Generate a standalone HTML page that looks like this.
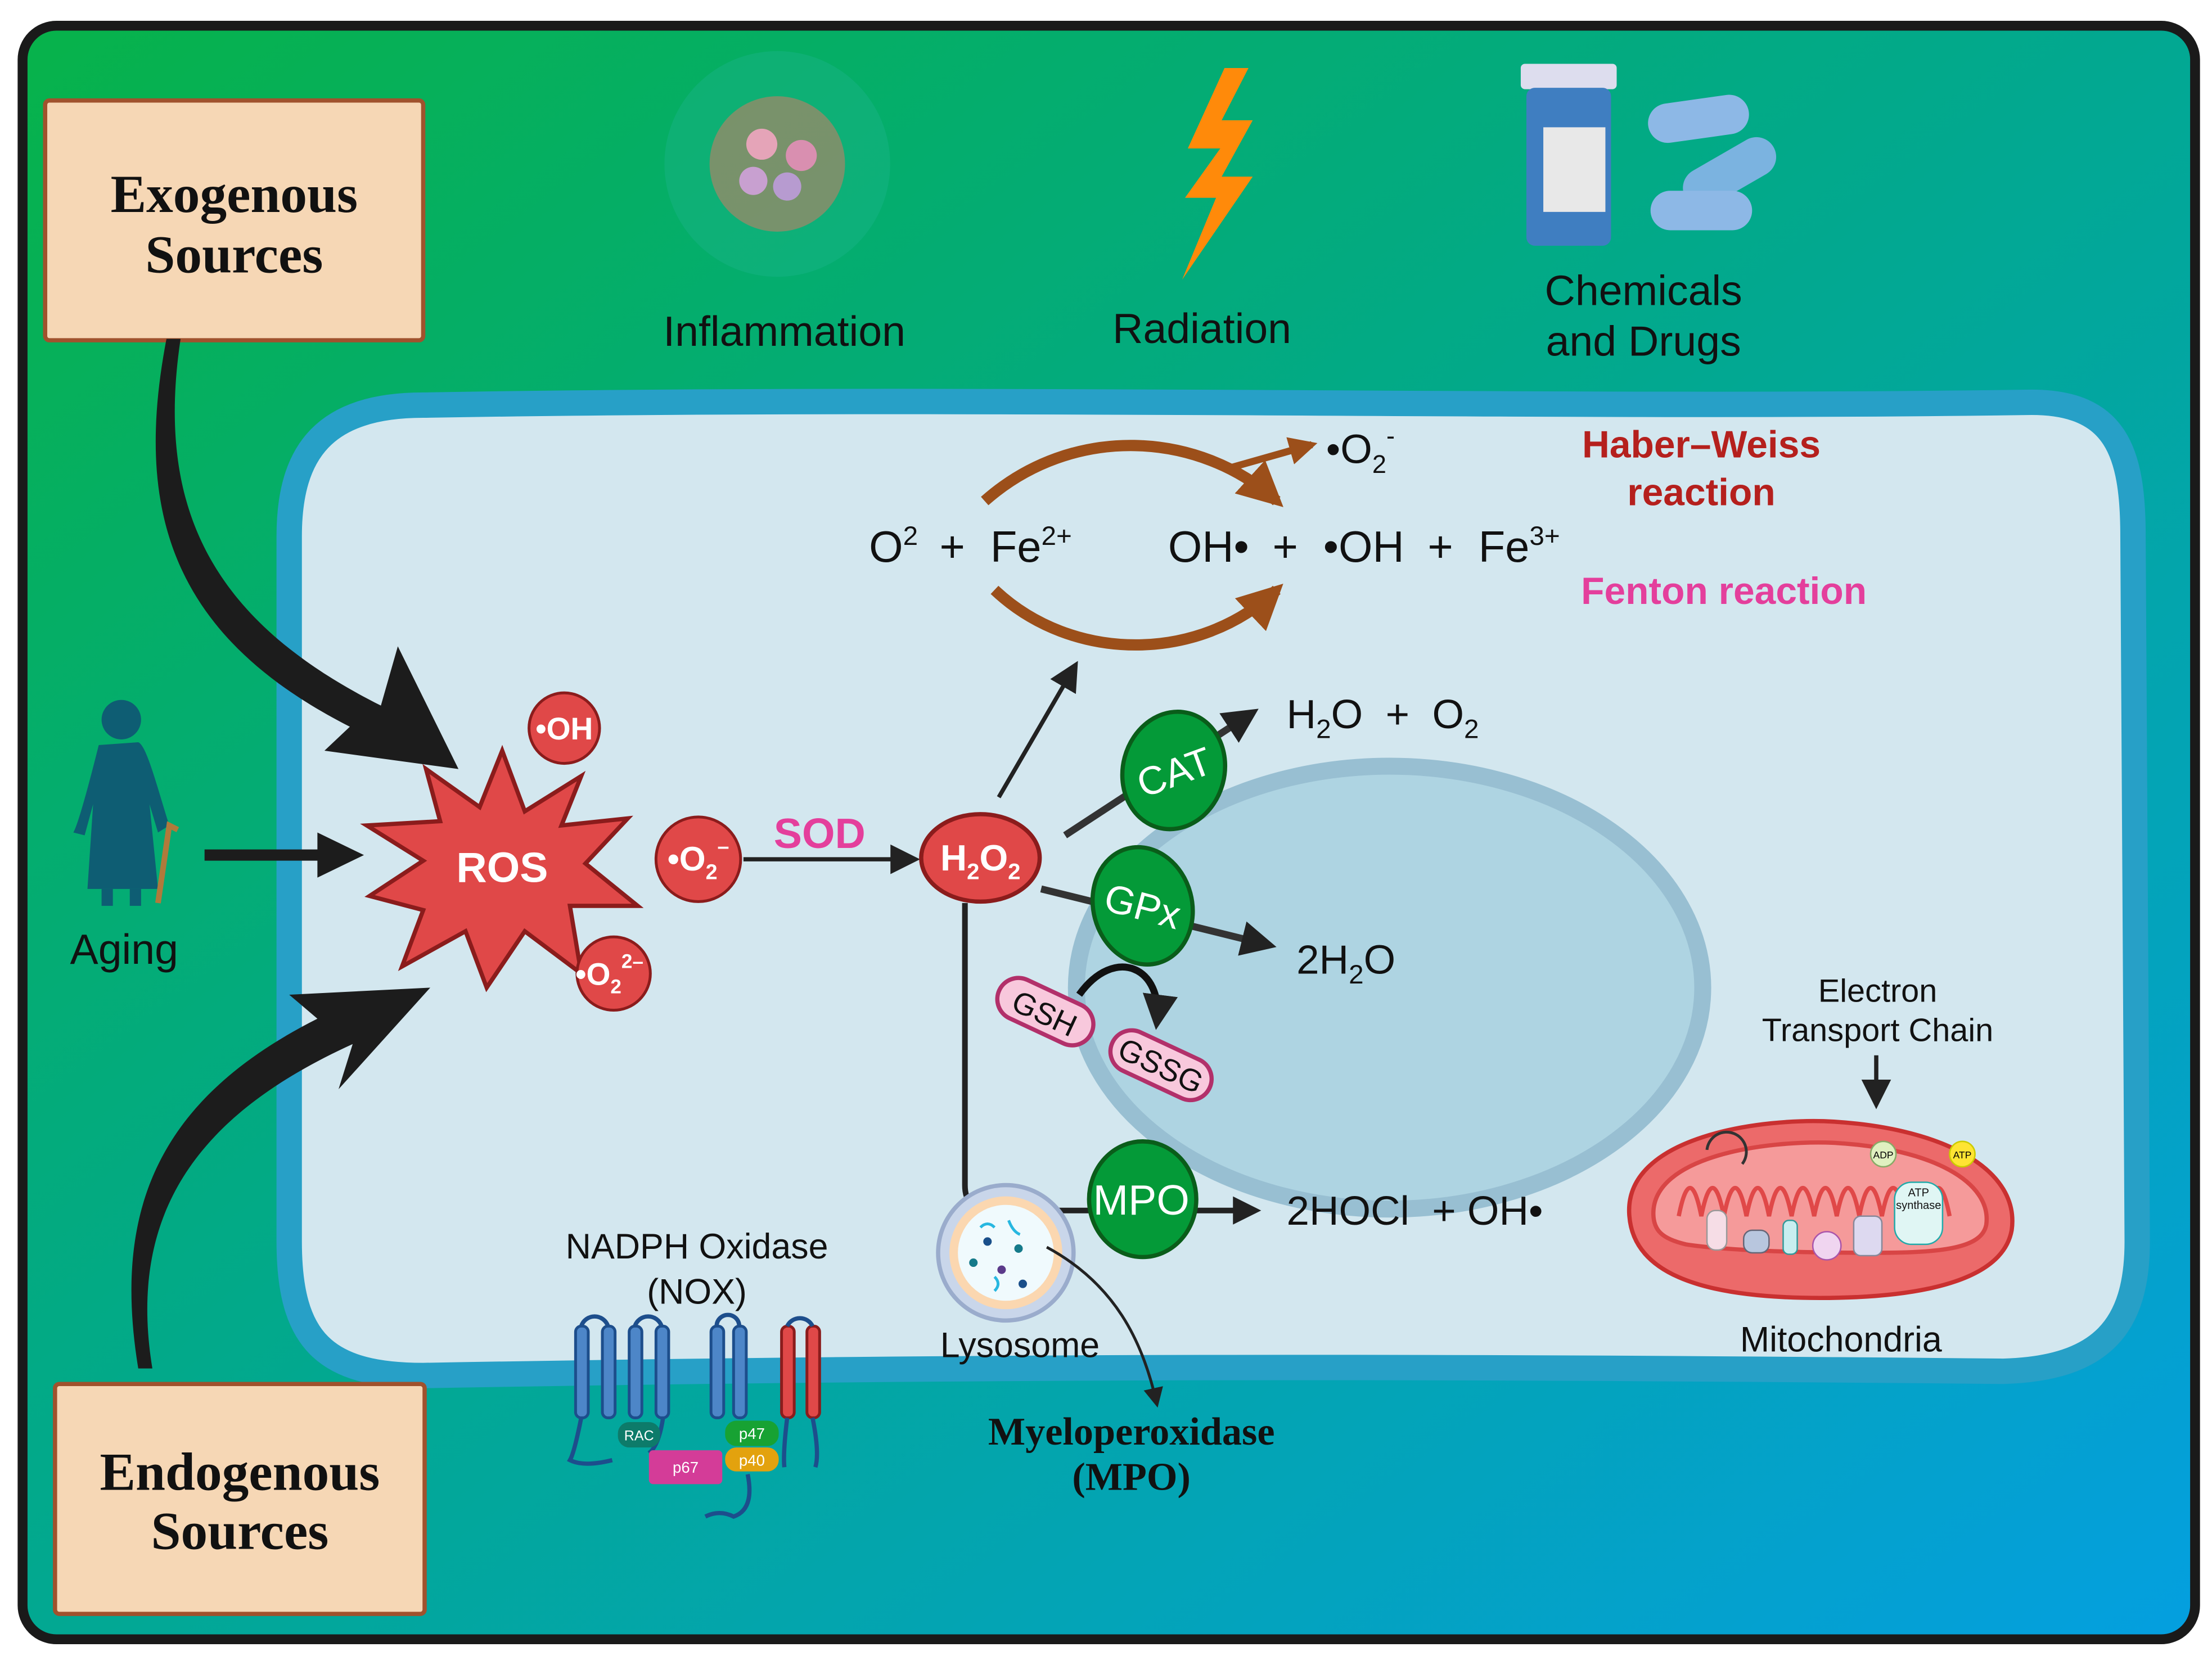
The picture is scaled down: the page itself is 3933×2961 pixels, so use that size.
<!DOCTYPE html>
<html><head><meta charset="utf-8"><style>
html,body{margin:0;padding:0;background:#fff;}
svg{display:block;}
text{font-family:"Liberation Sans",sans-serif;}
.serif{font-family:"Liberation Serif",serif;font-weight:bold;}
</style></head><body>
<svg width="3933" height="2961" viewBox="0 0 1568 1180" xmlns="http://www.w3.org/2000/svg">
<defs>
<linearGradient id="bg" x1="0" y1="0" x2="1" y2="1">
<stop offset="0" stop-color="#07b24a"/><stop offset="0.45" stop-color="#02a98a"/><stop offset="1" stop-color="#049fe0"/>
</linearGradient>
<marker id="ah" viewBox="0 0 10 10" refX="8" refY="5" markerWidth="5" markerHeight="5" orient="auto"><path d="M0,0L10,5L0,10z" fill="#222"/></marker>
<marker id="ahs" viewBox="0 0 10 10" refX="8" refY="5" markerWidth="7" markerHeight="7" orient="auto"><path d="M0,0L10,5L0,10z" fill="#222"/></marker>
<marker id="ahb" viewBox="0 0 10 10" refX="8" refY="5" markerWidth="4" markerHeight="4" orient="auto"><path d="M0,0L10,5L0,10z" fill="#9c4f1a"/></marker>
</defs>
<rect x="0" y="0" width="1568" height="1180" fill="#fff"/>
<rect x="16" y="18" width="1540" height="1144" rx="24" fill="url(#bg)" stroke="#1a1a1a" stroke-width="7"/>
<!-- cell -->
<path d="M300,287 C700,280 1100,290 1440,285 C1500,285 1512,320 1512,380 L1515,880 C1515,940 1490,970 1420,972 C1000,968 700,968 300,975 C230,975 205,950 205,880 L205,380 C205,320 230,287 300,287 Z" fill="#d3e7ef" stroke="#27a0c7" stroke-width="18"/>
<!-- nucleus -->
<ellipse cx="985" cy="700" rx="222" ry="157" fill="#aed4e2" stroke="#98bfd2" stroke-width="12"/>
<!-- boxes -->
<rect x="32" y="71" width="268" height="170" fill="#f6d7b5" stroke="#a0522d" stroke-width="3" rx="3"/>
<text x="166" y="150" class="serif" font-size="38" text-anchor="middle" fill="#111">Exogenous</text>
<text x="166" y="193" class="serif" font-size="38" text-anchor="middle" fill="#111">Sources</text>
<rect x="39" y="981" width="262" height="163" fill="#f6d7b5" stroke="#a0522d" stroke-width="3" rx="3"/>
<text x="170" y="1056" class="serif" font-size="38" text-anchor="middle" fill="#111">Endogenous</text>
<text x="170" y="1098" class="serif" font-size="38" text-anchor="middle" fill="#111">Sources</text>
<!-- big curved arrows -->
<path d="M128,240 C110,360 150,440 270,500 L282,458 L325,545 L230,532 L248,515 C120,450 95,360 118,240 Z" fill="#1c1c1c"/>
<path d="M108,970 C90,860 140,790 250,740 L240,772 L305,700 L205,705 L225,722 C110,780 80,860 98,970 Z" fill="#1c1c1c"/>
<path d="M145,602 L225,602 L225,590 L258,606 L225,622 L225,610 L145,610 Z" fill="#1c1c1c"/>
<!-- Aging figure -->
<g fill="#0e5d73">
<circle cx="86" cy="510" r="14"/>
<path d="M70,528 C62,560 55,585 52,590 L60,592 L66,570 L62,630 L112,630 L106,570 L112,590 L120,585 C112,560 104,528 98,526 Z"/>
<rect x="72" y="630" width="8" height="12"/><rect x="92" y="630" width="8" height="12"/>
</g>
<path d="M112,640 L120,585 L126,588" stroke="#b07a3b" stroke-width="4" fill="none"/>
<text x="88" y="683" font-size="30" text-anchor="middle" fill="#111">Aging</text>
<!-- top icons -->
<circle cx="551" cy="116" r="80" fill="#1bb38d" opacity="0.4"/>
<circle cx="551" cy="116" r="48" fill="#d27a63" opacity="0.55"/>
<circle cx="540" cy="102" r="11" fill="#e5a4b8"/><circle cx="568" cy="110" r="11" fill="#d98fb0"/>
<circle cx="534" cy="128" r="10" fill="#c8a0d0"/><circle cx="558" cy="132" r="10" fill="#b79bd0"/>
<text x="556" y="245" font-size="30" text-anchor="middle" fill="#111">Inflammation</text>
<path d="M868,48 L842,105 L865,105 L840,140 L862,140 L838,198 L888,125 L866,125 L888,85 L866,85 L885,48 Z" fill="#ff8a0a"/>
<text x="852" y="243" font-size="30" text-anchor="middle" fill="#111">Radiation</text>
<rect x="1078" y="45" width="68" height="18" fill="#dde" rx="3"/>
<rect x="1082" y="62" width="60" height="112" fill="#3f7ec1" rx="6"/>
<rect x="1094" y="90" width="44" height="60" fill="#e8e8e8"/>
<rect x="1168" y="70" width="72" height="28" rx="14" fill="#8db8e6" transform="rotate(-8 1204 84)"/>
<rect x="1190" y="108" width="72" height="28" rx="14" fill="#7bb3e0" transform="rotate(-30 1226 122)"/>
<rect x="1170" y="135" width="72" height="28" rx="14" fill="#8db8e6"/>
<text x="1165" y="216" font-size="30" text-anchor="middle" fill="#111">Chemicals</text>
<text x="1165" y="252" font-size="30" text-anchor="middle" fill="#111">and Drugs</text>
<!-- ROS star -->
<path d="M356,532 L372,575 L412,550 L398,585 L445,580 L415,612 L452,642 L404,642 L412,690 L372,660 L345,700 L330,660 L285,685 L300,645 L262,635 L300,610 L260,585 L312,582 L302,545 L340,572 Z" fill="#e04848" stroke="#8b1c1c" stroke-width="3"/>
<text x="356" y="625" font-size="30" font-weight="bold" text-anchor="middle" fill="#fff">ROS</text>
<circle cx="400" cy="516" r="25" fill="#e04848" stroke="#8b1c1c" stroke-width="2"/>
<text x="400" y="524" font-size="22" font-weight="bold" text-anchor="middle" fill="#fff">•OH</text>
<circle cx="495" cy="609" r="30" fill="#e04848" stroke="#8b1c1c" stroke-width="2"/>
<text x="495" y="617" font-size="24" font-weight="bold" text-anchor="middle" fill="#fff">•O<tspan font-size="15" dy="6">2</tspan><tspan font-size="15" dy="-18">–</tspan></text>
<circle cx="435" cy="690" r="26" fill="#e04848" stroke="#8b1c1c" stroke-width="2"/>
<text x="432" y="698" font-size="22" font-weight="bold" text-anchor="middle" fill="#fff">•O<tspan font-size="14" dy="6">2</tspan><tspan font-size="14" dy="-18">2–</tspan></text>
<line x1="527" y1="609" x2="648" y2="609" stroke="#222" stroke-width="3" marker-end="url(#ahs)"/>
<text x="581" y="601" font-size="30" font-weight="bold" text-anchor="middle" fill="#e43f9c">SOD</text>
<ellipse cx="695" cy="608" rx="42" ry="31" fill="#e04848" stroke="#8b1c1c" stroke-width="3"/>
<text x="695" y="617" font-size="26" font-weight="bold" text-anchor="middle" fill="#fff">H<tspan font-size="16" dy="6">2</tspan><tspan dy="-6">O</tspan><tspan font-size="16" dy="6">2</tspan></text>
<!-- branches -->
<line x1="708" y1="565" x2="762" y2="472" stroke="#222" stroke-width="3" marker-end="url(#ahs)"/>
<line x1="755" y1="592" x2="888" y2="505" stroke="#333" stroke-width="5" marker-end="url(#ah)"/>
<line x1="738" y1="630" x2="900" y2="670" stroke="#333" stroke-width="5" marker-end="url(#ah)"/>
<path d="M684,640 L684,840 Q684,858 702,858 L890,858" stroke="#222" stroke-width="4" fill="none" marker-end="url(#ah)"/>
<!-- enzymes -->
<ellipse cx="832" cy="546" rx="36" ry="42" fill="#049a38" stroke="#0a5d1a" stroke-width="3" transform="rotate(15 832 546)"/>
<text x="832" y="557" font-size="28" text-anchor="middle" fill="#fff" transform="rotate(-20 832 546)">CAT</text>
<ellipse cx="810" cy="642" rx="35" ry="42" fill="#049a38" stroke="#0a5d1a" stroke-width="3" transform="rotate(-15 810 642)"/>
<text x="810" y="652" font-size="28" text-anchor="middle" fill="#fff" transform="rotate(15 810 642)">GPx</text>
<ellipse cx="810" cy="850" rx="38" ry="41" fill="#049a38" stroke="#0a5d1a" stroke-width="3"/>
<text x="809" y="861" font-size="30" text-anchor="middle" fill="#fff">MPO</text>
<text x="912" y="516" font-size="29" fill="#111" xml:space="preserve">H<tspan font-size="19" dy="7">2</tspan><tspan dy="-7">O  +  O</tspan><tspan font-size="19" dy="7">2</tspan></text>
<text x="919" y="690" font-size="29" fill="#111">2H<tspan font-size="19" dy="7">2</tspan><tspan dy="-7">O</tspan></text>
<text x="912" y="868" font-size="29" fill="#111" xml:space="preserve">2HOCl  + OH•</text>
<!-- GSH -->
<path d="M765,705 C790,670 825,685 820,725" stroke="#111" stroke-width="5" fill="none" marker-end="url(#ah)"/>
<rect x="705" y="702" width="72" height="30" rx="15" fill="#f8c8dc" stroke="#b2306a" stroke-width="3" transform="rotate(25 741 717)"/>
<text x="741" y="726" font-size="22" text-anchor="middle" fill="#111" transform="rotate(25 741 717)">GSH</text>
<rect x="785" y="740" width="76" height="30" rx="15" fill="#f8c8dc" stroke="#b2306a" stroke-width="3" transform="rotate(25 823 755)"/>
<text x="823" y="763" font-size="22" text-anchor="middle" fill="#111" transform="rotate(25 823 755)">GSSG</text>
<!-- Fenton/HW -->
<text x="616" y="398" font-size="31" fill="#111">O<tspan font-size="19" dy="-12">2</tspan></text>
<text x="666" y="398" font-size="31" fill="#111">+</text>
<text x="702" y="398" font-size="31" fill="#111">Fe<tspan font-size="19" dy="-12">2+</tspan></text>
<text x="828" y="398" font-size="31" fill="#111">OH•</text>
<text x="902" y="398" font-size="31" fill="#111">+</text>
<text x="938" y="398" font-size="31" fill="#111">•OH</text>
<text x="1012" y="398" font-size="31" fill="#111">+</text>
<text x="1048" y="398" font-size="31" fill="#111">Fe<tspan font-size="19" dy="-12">3+</tspan></text>
<path d="M698,355 C760,300 850,305 905,355" stroke="#9c4f1a" stroke-width="8" fill="none" marker-end="url(#ahb)"/>
<path d="M870,332 L930,315" stroke="#9c4f1a" stroke-width="5" fill="none" marker-end="url(#ahb)"/>
<path d="M705,418 C760,470 850,470 905,418" stroke="#9c4f1a" stroke-width="8" fill="none" marker-end="url(#ahb)"/>
<text x="940" y="328" font-size="29" fill="#111">•O<tspan font-size="18" dy="7">2</tspan><tspan font-size="18" dy="-20">-</tspan></text>
<text x="1206" y="324" font-size="27" font-weight="bold" text-anchor="middle" fill="#b5201d">Haber–Weiss</text>
<text x="1206" y="358" font-size="27" font-weight="bold" text-anchor="middle" fill="#b5201d">reaction</text>
<text x="1222" y="428" font-size="27" font-weight="bold" text-anchor="middle" fill="#e43f9c">Fenton reaction</text>
<!-- lysosome -->
<circle cx="713" cy="888" r="48" fill="#c9d6ea" stroke="#9aaccc" stroke-width="3"/>
<circle cx="713" cy="888" r="40" fill="#fbd7b0"/>
<circle cx="713" cy="888" r="34" fill="#f0fafd"/>
<circle cx="700" cy="880" r="3" fill="#1a4f8a"/><circle cx="722" cy="885" r="3" fill="#157a8a"/><circle cx="710" cy="900" r="3" fill="#5b3a8a"/><circle cx="725" cy="910" r="3" fill="#1a4f8a"/><circle cx="690" cy="895" r="3" fill="#157a8a"/>
<path d="M695,870 q5,-5 10,0 M715,865 q3,8 8,10 M705,905 q5,5 0,10" stroke="#27b7e0" stroke-width="2" fill="none"/>
<path d="M742,884 C790,910 810,950 820,995" stroke="#222" stroke-width="2" fill="none" marker-end="url(#ahs)"/>
<text x="723" y="962" font-size="25" text-anchor="middle" fill="#111">Lysosome</text>
<text x="802" y="1024" class="serif" font-size="28" text-anchor="middle" fill="#111">Myeloperoxidase</text>
<text x="802" y="1056" class="serif" font-size="28" text-anchor="middle" fill="#111">(MPO)</text>
<!-- NOX -->
<text x="494" y="892" font-size="25" text-anchor="middle" fill="#111">NADPH Oxidase</text>
<text x="494" y="924" font-size="25" text-anchor="middle" fill="#111">(NOX)</text>
<g fill="#4d86c8" stroke="#1d4e8c" stroke-width="2">
<rect x="408" y="940" width="9" height="65" rx="4"/><rect x="427" y="940" width="9" height="65" rx="4"/>
<rect x="446" y="940" width="9" height="65" rx="4"/><rect x="465" y="940" width="9" height="65" rx="4"/>
<rect x="504" y="940" width="9" height="65" rx="4"/><rect x="520" y="940" width="9" height="65" rx="4"/>
</g>
<g fill="#e04848" stroke="#8b1c1c" stroke-width="2"><rect x="554" y="940" width="9" height="65" rx="4"/><rect x="572" y="940" width="9" height="65" rx="4"/></g>
<path d="M412,940 a10,10 0 0 1 19,0 M450,940 a10,10 0 0 1 19,0 M508,940 a8,8 0 0 1 16,0 M558,940 a10,10 0 0 1 18,0" stroke="#1d4e8c" stroke-width="3" fill="none"/>
<path d="M412,1005 q-5,25 -8,30 q10,5 30,0 M470,1005 q-3,20 -10,25 M576,1005 q5,25 2,35 M558,1005 q-3,25 -2,35" stroke="#1d4e8c" stroke-width="3" fill="none"/>
<rect x="438" y="1008" width="30" height="18" rx="8" fill="#0d7b6a"/><text x="453" y="1021" font-size="10" text-anchor="middle" fill="#fff">RAC</text>
<rect x="460" y="1028" width="52" height="24" rx="3" fill="#d43c98"/><text x="486" y="1044" font-size="11" text-anchor="middle" fill="#fff">p67</text>
<rect x="514" y="1007" width="38" height="18" rx="8" fill="#17a233"/><text x="533" y="1020" font-size="11" text-anchor="middle" fill="#fff">p47</text>
<rect x="514" y="1026" width="38" height="17" rx="8" fill="#e3a20e"/><text x="533" y="1039" font-size="11" text-anchor="middle" fill="#fff">p40</text>
<path d="M530,1045 q5,25 -10,30 q-10,-5 -20,0" stroke="#1d4e8c" stroke-width="3" fill="none"/>
<!-- ETC & mitochondria -->
<text x="1331" y="710" font-size="23" text-anchor="middle" fill="#111">Electron</text>
<text x="1331" y="738" font-size="23" text-anchor="middle" fill="#111">Transport Chain</text>
<line x1="1330" y1="748" x2="1330" y2="782" stroke="#222" stroke-width="3" marker-end="url(#ahs)"/>
<path d="M1155,862 C1150,805 1250,792 1300,795 C1380,800 1432,830 1426,872 C1420,905 1370,920 1290,920 C1200,920 1158,900 1155,862 Z" fill="#ec6a6a" stroke="#c93030" stroke-width="3"/>
<path d="M1172,860 C1172,820 1250,808 1300,810 C1370,814 1412,838 1408,868 C1405,884 1380,888 1330,888 C1270,888 1220,886 1195,882 C1178,878 1172,872 1172,860 Z" fill="#f59a9a" stroke="#d84545" stroke-width="3"/>
<path d="M1190,862 q8,-40 16,0 q8,-40 16,0 q8,-40 16,0 q8,-40 16,0 q8,-40 16,0 q8,-40 16,0 q8,-40 16,0 q8,-40 16,0 q8,-40 16,0 q8,-40 16,0 q8,-40 16,0 q8,-40 16,0" stroke="#e04848" stroke-width="3" fill="none"/>
<rect x="1210" y="858" width="14" height="28" rx="6" fill="#f6dde6" stroke="#999"/>
<rect x="1236" y="872" width="18" height="16" rx="6" fill="#b8c6de" stroke="#667"/>
<rect x="1264" y="865" width="10" height="24" rx="4" fill="#c8eef0" stroke="#399"/>
<circle cx="1295" cy="883" r="10" fill="#f0d5f0" stroke="#a5a"/>
<rect x="1314" y="862" width="20" height="28" rx="5" fill="#ddd9f0" stroke="#889"/>
<rect x="1343" y="838" width="34" height="44" rx="12" fill="#e0f6f4" stroke="#2aa"/>
<text x="1360" y="848" font-size="8" text-anchor="middle" fill="#111">ATP</text><text x="1360" y="857" font-size="8" text-anchor="middle" fill="#111">synthase</text>
<circle cx="1335" cy="818" r="9" fill="#e0f0c0" stroke="#8a6"/><text x="1335" y="821" font-size="7" text-anchor="middle">ADP</text>
<circle cx="1391" cy="818" r="9" fill="#ffe433" stroke="#cc0"/><text x="1391" y="821" font-size="7" text-anchor="middle">ATP</text>
<path d="M1210,815 a14,14 0 1 1 25,10" stroke="#333" stroke-width="2" fill="none"/>
<text x="1305" y="958" font-size="25" text-anchor="middle" fill="#111">Mitochondria</text>
</svg>
</body></html>
